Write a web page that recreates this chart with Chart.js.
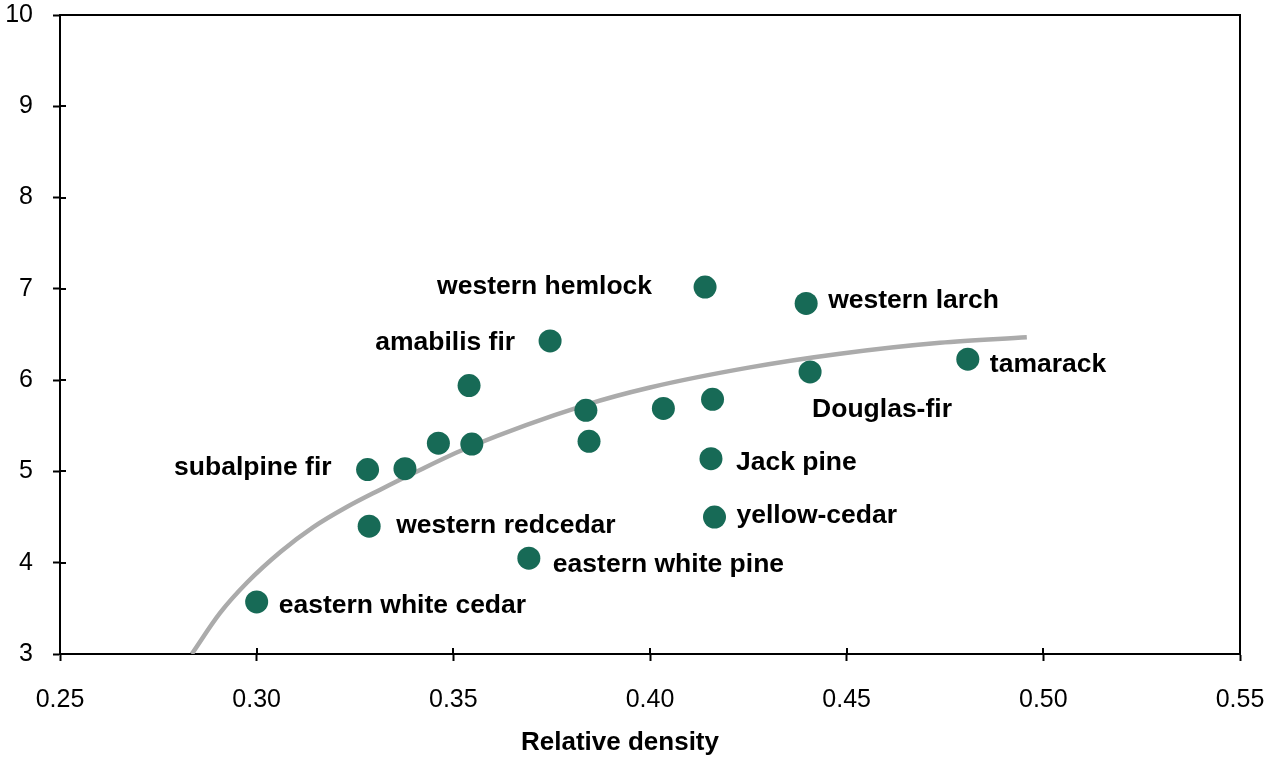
<!DOCTYPE html>
<html>
<head>
<meta charset="utf-8">
<script src="https://cdn.jsdelivr.net/npm/chart.js@4.4.1/dist/chart.umd.min.js"></script>
<style>
  html, body { margin: 0; padding: 0; background: #ffffff; }
  #wrap { width: 1270px; height: 759px; }
</style>
</head>
<body>
<div id="wrap"><canvas id="c" width="1270" height="759"></canvas></div>
<script>
// Species: relative density vs. value
const species = [
  'eastern white cedar', 'western redcedar', 'subalpine fir', '', '', '', '',
  'amabilis fir', 'eastern white pine', '', '', '', 'western hemlock', '',
  'Jack pine', 'yellow-cedar', 'western larch', 'Douglas-fir', 'tamarack'
];
const density = [
  0.300, 0.3286, 0.3282, 0.3377, 0.3462, 0.3547, 0.3540,
  0.3746, 0.3692, 0.3837, 0.3845, 0.4034, 0.4140, 0.4159,
  0.4155, 0.4164, 0.4397, 0.4407, 0.4808
];
const values = [
  3.57, 4.40, 5.02, 5.03, 5.31, 5.30, 5.94,
  6.43, 4.05, 5.67, 5.33, 5.69, 7.02, 5.79,
  5.14, 4.50, 6.84, 6.09, 6.23
];

// Trend curve, sampled along its course
const curveX = [0.2835, 0.2907, 0.2975, 0.3061, 0.3144, 0.3229, 0.3314, 0.3398, 0.3542, 0.3837, 0.4000, 0.4254, 0.4483, 0.4737, 0.4958];
const curveY = [3.00, 3.45, 3.78, 4.12, 4.39, 4.61, 4.80, 4.98, 5.27, 5.73, 5.92, 6.14, 6.29, 6.41, 6.47];

// Axis ticks
const xTicks = [0.25, 0.30, 0.35, 0.40, 0.45, 0.50, 0.55];
const yTicks = [3, 4, 5, 6, 7, 8, 9, 10];
const xTitle = 'Relative density';

// Label placement relative to each marker (pixels): [dx, dy, align]
const labelPlacement = {
  'eastern white cedar': [22, 11, 'left'],
  'western redcedar': [27, 7, 'left'],
  'subalpine fir': [-36, 5, 'right'],
  'amabilis fir': [-35, 9, 'right'],
  'eastern white pine': [24, 14, 'left'],
  'western hemlock': [-53, 7, 'right'],
  'Jack pine': [25, 11, 'left'],
  'yellow-cedar': [22, 6, 'left'],
  'western larch': [22, 5, 'left'],
  'Douglas-fir': [2, 45, 'left'],
  'tamarack': [22, 13, 'left']
};

const FONT = "'Liberation Sans', Arial, Helvetica, sans-serif";

const frameAndLabels = {
  id: 'frameAndLabels',
  afterDatasetsDraw(chart) {
    const { ctx, chartArea: a, scales: { x, y } } = chart;
    ctx.save();
    // top and right frame lines
    ctx.strokeStyle = '#000';
    ctx.lineWidth = 2;
    ctx.beginPath();
    ctx.moveTo(a.left, a.top);
    ctx.lineTo(a.right, a.top);
    ctx.lineTo(a.right, a.bottom);
    ctx.stroke();
    // inner halves of the tick marks
    ctx.beginPath();
    xTicks.forEach(v => {
      const px = Math.round(x.getPixelForValue(v));
      ctx.moveTo(px, a.bottom);
      ctx.lineTo(px, a.bottom - 6);
    });
    yTicks.forEach(v => {
      const py = Math.round(y.getPixelForValue(v));
      ctx.moveTo(a.left, py);
      ctx.lineTo(a.left + 6, py);
    });
    ctx.stroke();
    // species labels
    ctx.fillStyle = '#000';
    ctx.font = 'bold 26.5px ' + FONT;
    ctx.textBaseline = 'alphabetic';
    species.forEach((name, i) => {
      if (!name) return;
      const p = labelPlacement[name];
      const px = x.getPixelForValue(density[i]);
      const py = y.getPixelForValue(values[i]);
      ctx.textAlign = p[2];
      ctx.fillText(name, px + p[0], py + p[1]);
    });
    // axis title, set slightly left of the plot centre
    ctx.font = 'bold 26px ' + FONT;
    ctx.textAlign = 'center';
    ctx.textBaseline = 'middle';
    ctx.fillText(xTitle, (a.left + a.right) / 2 - 30, chart.height - 16);
    ctx.restore();
  }
};

function noOverflow(s) {
  s.paddingLeft = 0; s.paddingRight = 0; s.paddingTop = 0; s.paddingBottom = 0;
}

new Chart(document.getElementById('c'), {
  type: 'scatter',
  data: {
    datasets: [
      {
        data: density.map((d, i) => ({ x: d, y: values[i] })),
        backgroundColor: '#176a56',
        borderColor: '#176a56',
        pointRadius: 11.5,
        pointHoverRadius: 11.5,
        borderWidth: 0,
        order: 1
      },
      {
        type: 'line',
        data: curveX.map((d, i) => ({ x: d, y: curveY[i] })),
        borderColor: '#ababab',
        borderWidth: 4.5,
        pointRadius: 0,
        fill: false,
        cubicInterpolationMode: 'monotone',
        borderCapStyle: 'butt',
        order: 2
      }
    ]
  },
  options: {
    responsive: false,
    animation: false,
    events: [],
    layout: { padding: { top: 15, right: 30, left: 0, bottom: 0 } },
    plugins: { legend: { display: false }, tooltip: { enabled: false } },
    scales: {
      x: {
        type: 'linear',
        min: 0.25, max: 0.55,
        afterFit(s) { s.height = 105; noOverflow(s); },
        afterBuildTicks(s) { s.ticks = xTicks.map(v => ({ value: v })); },
        border: { display: true, color: '#000', width: 2 },
        grid: { display: true, drawOnChartArea: false, drawTicks: true, tickLength: 7, tickColor: '#000', tickWidth: 2 },
        ticks: {
          color: '#000', padding: 24, maxRotation: 0, autoSkip: false,
          font: { family: FONT, size: 25 },
          callback: v => v.toFixed(2)
        },
        title: { display: false }
      },
      y: {
        type: 'linear',
        min: 3, max: 10,
        afterFit(s) { s.width = 60; noOverflow(s); },
        afterBuildTicks(s) { s.ticks = yTicks.map(v => ({ value: v })); },
        border: { display: true, color: '#000', width: 2 },
        grid: { display: true, drawOnChartArea: false, drawTicks: true, tickLength: 7, tickColor: '#000', tickWidth: 2 },
        ticks: {
          color: '#000', padding: 20, autoSkip: false,
          font: { family: FONT, size: 25 },
          callback: v => String(v)
        }
      }
    }
  },
  plugins: [frameAndLabels]
});
</script>
</body>
</html>
